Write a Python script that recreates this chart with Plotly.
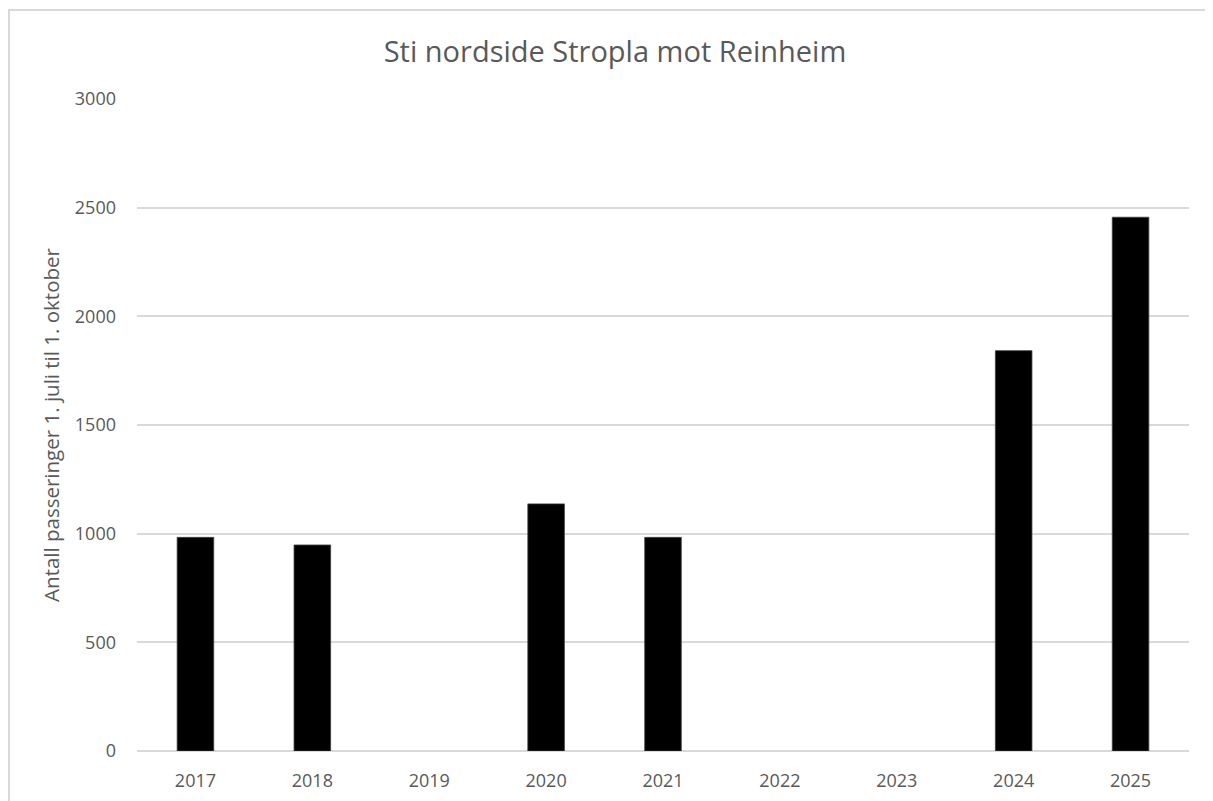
import plotly.graph_objects as go

years = ["2017", "2018", "2019", "2020", "2021", "2022", "2023", "2024", "2025"]
passes = [983, 948, None, 1137, 983, None, None, 1842, 2456]
tick_vals = [0, 500, 1000, 1500, 2000, 2500, 3000]

title_text = "Sti nordside Stropla mot Reinheim"
y_title = "Antall passeringer 1. juli til 1. oktober"

FONT = "Open Sans, sans-serif"
TXT = "#595959"
GRID = "#d9d9d9"

# the page adds an 8px body margin, so figure coords = page coords - 8
W, H = 1213, 801
L, R, T, B = 129, 32, 91, 58
pw, ph = W - L - R, H - T - B

fig = go.Figure(go.Bar(
    x=years, y=passes,
    marker=dict(color="black", line=dict(color="#404040", width=0.8)),
    hoverinfo="x+y",
))

fig.update_layout(
    width=W, height=H,
    margin=dict(l=L, r=R, t=T, b=B),
    paper_bgcolor="white", plot_bgcolor="white",
    bargap=0.687,
    showlegend=False,
    font=dict(family=FONT, color=TXT, size=18),
    title=dict(text=title_text, x=(607 - L) / pw, xref="paper", xanchor="center",
               y=1 - 44 / H, yanchor="middle",
               font=dict(family=FONT, size=29, color=TXT)),
)
fig.update_xaxes(
    type="category", showgrid=False, showline=False, zeroline=False,
    tickfont=dict(family=FONT, size=18, color=TXT), ticklabelstandoff=17,
)
fig.update_yaxes(
    range=[0, 3000], tickvals=tick_vals, showgrid=True, gridcolor=GRID, gridwidth=1.5,
    zeroline=True, zerolinecolor=GRID, zerolinewidth=1.5, showline=False,
    tickfont=dict(family=FONT, size=18, color=TXT), ticklabelstandoff=20,
    title=dict(text=y_title, font=dict(family=FONT, size=20.5, color=TXT), standoff=9),
)

# outer chart-area border (light gray), extending past the right/bottom of the page
fig.add_shape(type="rect", xref="paper", yref="paper",
              x0=(1 - L) / pw, x1=(W + 20 - L) / pw,
              y0=-0.3, y1=(H - B - 2) / ph,
              line=dict(color=GRID, width=2), fillcolor="rgba(0,0,0,0)", layer="below")

fig.write_html("out.html")
